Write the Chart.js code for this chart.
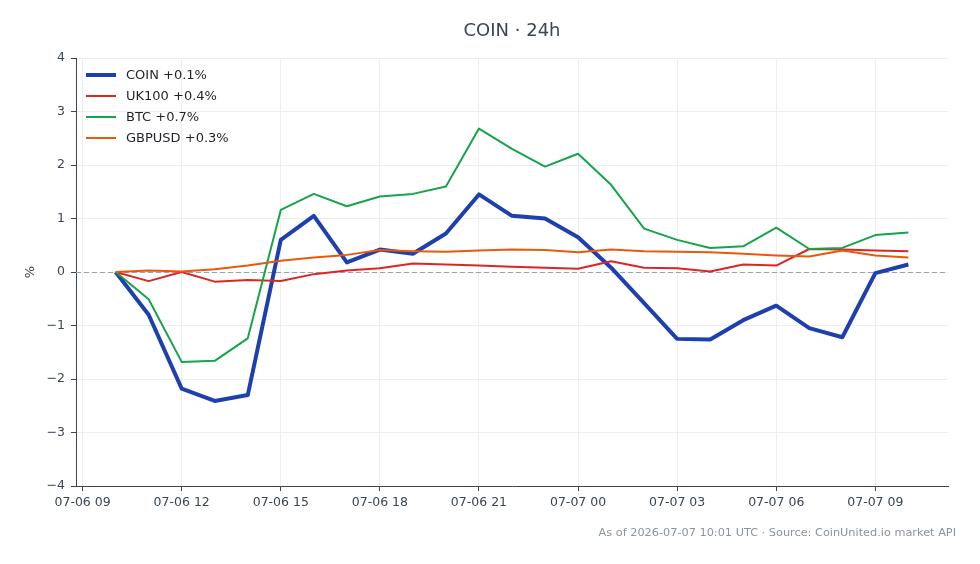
<!DOCTYPE html>
<html><head><meta charset="utf-8">
<script src="https://cdn.jsdelivr.net/npm/chart.js@4.4.1/dist/chart.umd.min.js"></script>
<style>html,body{margin:0;padding:0;background:#fff}#wrap{width:980px;height:564px}canvas{display:block}</style>
</head><body><div id="wrap"><canvas id="c" width="980" height="564"></canvas></div>
<script>
// hours since 07-06 00:00 UTC
const hours = [10,11,12,13,14,15,16,17,18,19,20,21,22,23,24,25,26,27,28,29,30,31,32,33,34];
const coin   = [0,-0.80,-2.18,-2.41,-2.30,0.60,1.05,0.18,0.42,0.34,0.72,1.45,1.05,1.00,0.65,0.08,-0.58,-1.25,-1.26,-0.90,-0.63,-1.05,-1.22,-0.02,0.14];
const uk100  = [0,-0.17,0.00,-0.18,-0.15,-0.17,-0.04,0.03,0.07,0.16,0.14,0.12,0.10,0.08,0.06,0.20,0.08,0.07,0.01,0.14,0.12,0.43,0.42,0.40,0.39];
const btc    = [0,-0.51,-1.68,-1.66,-1.24,1.16,1.46,1.23,1.41,1.46,1.60,2.68,2.30,1.97,2.21,1.63,0.81,0.60,0.45,0.48,0.83,0.43,0.45,0.69,0.74];
const gbpusd = [0,0.03,0.01,0.05,0.12,0.21,0.27,0.32,0.41,0.39,0.38,0.40,0.42,0.41,0.37,0.42,0.39,0.38,0.37,0.34,0.31,0.29,0.40,0.31,0.27];
const seriesNames = ['COIN','UK100','BTC','GBPUSD'];
const tickHours  = [9,12,15,18,21,24,27,30,33];
const tickLabels = ['07-06 09','07-06 12','07-06 15','07-06 18','07-06 21','07-07 00','07-07 03','07-07 06','07-07 09'];
const yTicks = [-4,-3,-2,-1,0,1,2,3,4];

const FONT = 'DejaVu Sans';
const AX = '#3b4652';
const colors = ['#1e40af','#dc2626','#16a34a','#ea580c'];
const widths = [4,2,2,2];
const seriesData = [coin, uk100, btc, gbpusd];

const fmt = v => (v >= 0 ? '+' : '−') + Math.abs(v).toFixed(1) + '%';

const datasets = seriesData.map((arr, i) => ({
  label: seriesNames[i] + ' ' + fmt(arr[arr.length-1]),
  data: hours.map((h, k) => ({x: h, y: arr[k]})),
  borderColor: colors[i],
  backgroundColor: colors[i],
  borderWidth: widths[i],
  pointRadius: 0,
  tension: 0,
  fill: false,
  borderJoinStyle: 'round',
  order: 4 - i
}));

const decor = {
  id: 'decor',
  beforeDatasetsDraw(chart) {
    const {ctx, chartArea: a, scales: {y}} = chart;
    const py = Math.round(y.getPixelForValue(0)) + 0.5;
    ctx.save();
    ctx.strokeStyle = '#94a3b8';
    ctx.lineWidth = 1;
    ctx.setLineDash([5, 3]);
    ctx.beginPath(); ctx.moveTo(a.left, py); ctx.lineTo(a.right, py); ctx.stroke();
    ctx.restore();
  },
  afterDraw(chart) {
    const {ctx, chartArea: a} = chart;
    ctx.save();
    // title
    ctx.fillStyle = AX;
    ctx.font = '18px "' + FONT + '"';
    ctx.textAlign = 'center'; ctx.textBaseline = 'middle';
    ctx.fillText('COIN · 24h', (a.left + a.right) / 2, 31);
    // y label
    ctx.save();
    ctx.translate(31, (a.top + a.bottom) / 2);
    ctx.rotate(-Math.PI / 2);
    ctx.font = '13px "' + FONT + '"';
    ctx.fillText('%', 0, 0);
    ctx.restore();
    // footer
    ctx.fillStyle = '#8a939e';
    ctx.font = '11.3px "' + FONT + '"';
    ctx.textAlign = 'right';
    ctx.fillText('As of 2026-07-07 10:01 UTC · Source: CoinUnited.io market API', 956, 533);
    // legend
    ctx.textAlign = 'left';
    ctx.font = '13px "' + FONT + '"';
    chart.data.datasets.forEach((ds, i) => {
      const yy = 75 + i * 21;
      ctx.strokeStyle = ds.borderColor;
      ctx.lineWidth = ds.borderWidth;
      ctx.beginPath(); ctx.moveTo(86, yy); ctx.lineTo(116, yy); ctx.stroke();
      ctx.fillStyle = '#1f2328';
      ctx.fillText(ds.label, 126, yy + 1);
    });
    ctx.restore();
  }
};

new Chart(document.getElementById('c'), {
  type: 'line',
  data: { datasets },
  options: {
    responsive: false,
    devicePixelRatio: 1,
    animation: false,
    layout: { padding: { top: 58, right: 32, left: 0, bottom: 0 } },
    plugins: { legend: { display: false }, tooltip: { enabled: false }, title: { display: false } },
    scales: {
      x: {
        type: 'linear', min: 8.8, max: 35.2,
        afterBuildTicks: s => { s.ticks = tickHours.map(v => ({value: v})); },
        afterFit: s => { s.height = 78; },
        ticks: { callback: v => tickLabels[tickHours.indexOf(v)], color: AX, font: {size: 12.5, family: FONT}, maxRotation: 0, autoSkip: false, padding: 4 },
        grid: { color: '#eceef1', tickColor: AX, tickLength: 5, lineWidth: 1 },
        border: { color: AX, width: 1 }
      },
      y: {
        min: -4, max: 4,
        afterBuildTicks: s => { s.ticks = yTicks.map(v => ({value: v})); },
        afterFit: s => { s.width = 76; },
        ticks: { callback: v => String(v).replace('-', '−'), color: AX, font: {size: 12.5, family: FONT}, padding: 6 },
        grid: { color: '#eceef1', tickColor: AX, tickLength: 5, lineWidth: 1 },
        border: { color: AX, width: 1 }
      }
    }
  },
  plugins: [decor]
});
</script>
</body></html>
